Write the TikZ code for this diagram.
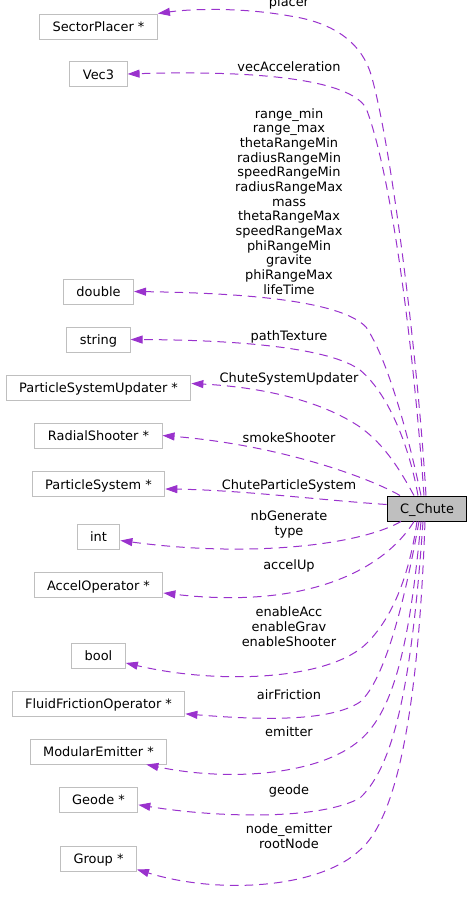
\documentclass[tikz,border=0pt]{standalone}
\usepackage{fontspec}
\setmainfont{DejaVu Sans}
\usetikzlibrary{arrows.meta}
\definecolor{edgepurple}{HTML}{9A32CD}
\definecolor{boxgrey}{HTML}{BFBFBF}

\begin{document}
\begin{tikzpicture}[x=.75pt,y=-.75pt,
  every node/.style={font=\fontsize{9.7}{11}\selectfont},
  cls/.style={draw=boxgrey, line width=.75pt, inner xsep=9.75pt, inner ysep=0pt, minimum height=18.75pt, text height=7.5pt, text depth=0pt},
  member/.style={draw=edgepurple, line width=.75pt, dash pattern=on 6.5pt off 4.5pt, -{Triangle[length=9pt,width=6pt,fill=edgepurple]}},
  lbl/.style={align=center}]
\useasboundingbox (0,0) rectangle (472,907);

% classes on the left
\node[cls] (sp) at (98.5,26.5) {SectorPlacer *};
\node[cls] (vec) at (98.5,74) {Vec3};
\node[cls] (dbl) at (98.5,291.5) {double};
\node[cls] (str) at (98.5,339.5) {string};
\node[cls] (psu) at (98.5,387.5) {ParticleSystemUpdater *};
\node[cls] (rs) at (98.5,435.5) {RadialShooter *};
\node[cls] (ps) at (98.5,484) {ParticleSystem *};
\node[cls] (int) at (98.5,536.5) {int};
\node[cls] (acc) at (98.5,585) {AccelOperator *};
\node[cls] (bool) at (98.5,655.5) {bool};
\node[cls] (ffo) at (98.5,703.5) {FluidFrictionOperator *};
\node[cls] (me) at (98.5,751.5) {ModularEmitter *};
\node[cls] (geo) at (98.5,799.5) {Geode *};
\node[cls] (grp) at (98.5,858.5) {Group *};

% the class itself
\node[cls, draw=black, fill=boxgrey] (chute) at (427,508.5) {C\_Chute};

% members above
\draw[member] ([xshift=-.75pt]chute.north) .. controls (418,360) and (392,150) .. (372,78) .. controls (362,40) and (330,22) .. (290,16) .. controls (240,7) and (190,9) .. (sp.north east);
\node[lbl] at (289,3) {placer};

\draw[member] ([xshift=-2.25pt]chute.north) .. controls (412,330) and (390,170) .. (366,108) .. controls (350,80) and (260,70) .. (vec.east);
\node[lbl] at (289,66.7) {vecAcceleration};

\draw[member] ([xshift=-4.5pt]chute.north) .. controls (405,420) and (385,355) .. (366,327) .. controls (340,300) and (240,293) .. (dbl.east);
\node[lbl] at (289,201.5) {range\_min\\range\_max\\thetaRangeMin\\radiusRangeMin\\speedRangeMin\\radiusRangeMax\\mass\\thetaRangeMax\\speedRangeMax\\phiRangeMin\\gravite\\phiRangeMax\\lifeTime};

\draw[member] ([xshift=-6.75pt]chute.north) .. controls (410,450) and (390,395) .. (360,370) .. controls (330,348) and (240,340) .. (str.east);
\node[lbl] at (289,337.3) {pathTexture};

\draw[member] ([xshift=-9.75pt]chute.north) .. controls (400,470) and (385,445) .. (360,427) .. controls (320,400) and (260,387) .. ([yshift=3pt]psu.east);
\node[lbl] at (289,379.3) {ChuteSystemUpdater};

\draw[member] ([xshift=-20.25pt]chute.north) .. controls (370,478) and (280,445) .. (rs.east);
\node[lbl] at (289,437.3) {smokeShooter};

\draw[member] ([yshift=3pt]chute.west) .. controls (320,500) and (240,490) .. ([yshift=-3.75pt]ps.east);
\node[lbl] at (289,486) {ChuteParticleSystem};

% members below
\draw[member] ([xshift=-19.5pt]chute.south) .. controls (360,545) and (250,558) .. ([yshift=-3pt]int.east);
\node[lbl] at (289,524.5) {nbGenerate\\type};

\draw[member] ([xshift=-9.75pt]chute.south) .. controls (385,568) and (310,610) .. ([yshift=-6pt]acc.east);
\node[lbl] at (289,565.7) {accelUp};

\draw[member] ([xshift=-7.5pt]chute.south) .. controls (410,570) and (395,615) .. (367,643) .. controls (330,680) and (220,685) .. ([yshift=-5.6pt]bool.east);
\node[lbl] at (289,626.7) {enableAcc\\enableGrav\\enableShooter};

\draw[member] ([xshift=-6pt]chute.south) .. controls (405,600) and (385,680) .. (360,702) .. controls (330,722) and (260,720) .. ([yshift=2pt]ffo.south east);
\node[lbl] at (289,694.7) {airFriction};

\draw[member] ([xshift=-4.5pt]chute.south) .. controls (410,640) and (395,710) .. (360,740) .. controls (320,775) and (230,782) .. ([xshift=-15.75pt]me.south east);
\node[lbl] at (289,731.7) {emitter};

\draw[member] ([xshift=-3pt]chute.south) .. controls (412,680) and (395,765) .. (360,798) .. controls (320,820) and (220,818) .. ([yshift=-4pt]geo.east);
\node[lbl] at (289,790.7) {geode};

\draw[member] ([xshift=-1.5pt]chute.south) .. controls (418,720) and (395,820) .. (360,850) .. controls (320,888) and (220,895) .. ([yshift=1.5pt]grp.south east);
\node[lbl] at (289,836.3) {node\_emitter\\rootNode};

\end{tikzpicture}
\end{document}
